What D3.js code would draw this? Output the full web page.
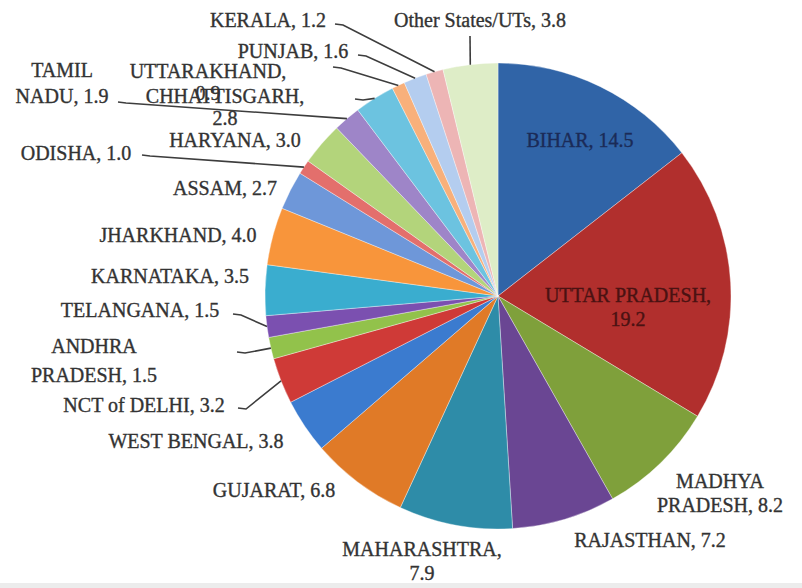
<!DOCTYPE html>
<html>
<head>
<meta charset="utf-8">
<script src="https://cdn.jsdelivr.net/npm/d3@7"></script>
<style>
  body { margin: 0; background: #fff; }
  svg { display: block; }
  text { font-family: "Liberation Serif", "Times New Roman", serif; }
</style>
</head>
<body>
<div id="chart"></div>
<script>
// state shares, clockwise from 12 o'clock
let states = ["BIHAR", "UTTAR PRADESH", "MADHYA PRADESH", "RAJASTHAN", "MAHARASHTRA",
    "GUJARAT", "WEST BENGAL", "NCT of DELHI", "ANDHRA PRADESH", "TELANGANA",
    "KARNATAKA", "JHARKHAND", "ASSAM", "ODISHA", "HARYANA", "TAMIL NADU",
    "CHHATTISGARH", "UTTARAKHAND", "PUNJAB", "KERALA", "Other States/UTs"];
let shares = [14.5, 19.2, 8.2, 7.2, 7.9, 6.8, 3.8, 3.2, 1.5, 1.5, 3.5, 4.0, 2.7, 1.0, 3.0,
    1.9, 2.8, 0.9, 1.6, 1.2, 3.8];
// how each label is broken into lines
let labelLines = [
    ["BIHAR, 14.5"], ["UTTAR PRADESH,", "19.2"], ["MADHYA", "PRADESH, 8.2"], ["RAJASTHAN, 7.2"],
    ["MAHARASHTRA,", "7.9"], ["GUJARAT, 6.8"], ["WEST BENGAL, 3.8"], ["NCT of DELHI, 3.2"],
    ["ANDHRA", "PRADESH, 1.5"], ["TELANGANA, 1.5"], ["KARNATAKA, 3.5"], ["JHARKHAND, 4.0"],
    ["ASSAM, 2.7"], ["ODISHA, 1.0"], ["HARYANA, 3.0"], ["TAMIL", "NADU, 1.9"],
    ["CHHATTISGARH,", "2.8"], ["UTTARAKHAND,", "0.9"], ["PUNJAB, 1.6"], ["KERALA, 1.2"],
    ["Other States/UTs, 3.8"]];
let colors = ["#3064a7", "#b12f2d", "#7fa03b", "#6a4693", "#2e8ca8", "#e07a27", "#3b7bcf",
    "#cf3a37", "#92c24b", "#7b50b0", "#3aadcf", "#f8953b", "#6e97d9", "#e36f6c", "#b3d47b",
    "#9e85c8", "#6cc3e0", "#f8b07b", "#b4cdef", "#edb5b5", "#deedc7"];

/* label layout: centre x, first baseline, leader start (none = no leader) */
let labelLayout = [
    { x: 580, y: 147, fill: "#1b2b57" },
    { x: 628, y: 302, fill: "#4a1212" },
    { x: 720, y: 488 },
    { x: 650, y: 547 },
    { x: 422, y: 556 },
    { x: 274, y: 497 },
    { x: 196, y: 448 },
    { x: 144, y: 412, lead: [238, 408] },
    { x: 94, y: 353, gap: 29, lead: [237, 352] },
    { x: 140, y: 317, lead: [233, 314] },
    { x: 170, y: 283 },
    { x: 178, y: 242 },
    { x: 225, y: 195 },
    { x: 76, y: 160, lead: [142, 155] },
    { x: 235, y: 147 },
    { x: 62, y: 77, gap: 26, lead: [118, 102] },
    { x: 225, y: 103, gap: 22, lead: [355, 99] },
    { x: 208, y: 78, gap: 22, lead: [333, 67] },
    { x: 293, y: 58, lead: [358, 55] },
    { x: 268, y: 27, lead: [335, 24] },
    { x: 480, y: 27, lead: [470, 36], straight: true }
];

let width = 802;
let height = 588;
let cx = 498;
let cy = 296;
let radius = 233;

let svg = d3.select("#chart")
    .append("svg")
    .attr("width", width)
    .attr("height", height);

svg.append("rect")
    .attr("x", 0).attr("y", 583)
    .attr("width", width).attr("height", 5)
    .attr("fill", "#ececec");

let data = states.map(function(s, i) {
    return { name: s, value: shares[i], lines: labelLines[i], color: colors[i], lay: labelLayout[i] };
});

let pie = d3.pie()
    .sort(null)
    .value(function(d) { return d.value; });

let arc = d3.arc()
    .innerRadius(0)
    .outerRadius(radius);

let edgeArc = d3.arc()
    .innerRadius(radius)
    .outerRadius(radius);

let g = svg.append("g")
    .attr("transform", "translate(" + cx + "," + cy + ")");

let arcs = pie(data);

g.selectAll("path.slice")
    .data(arcs)
    .enter()
    .append("path")
    .attr("class", "slice")
    .attr("d", arc)
    .attr("fill", function(d) { return d.data.color; })
    .attr("stroke", "#ffffff")
    .attr("stroke-opacity", 0.45)
    .attr("stroke-width", 0.8);

/* leader lines from slice edge to label */
arcs.forEach(function(d) {
    let lay = d.data.lay;
    if (!lay.lead) return;
    let p = edgeArc.centroid(d);
    let end = [p[0] + cx, p[1] + cy];
    let pts;
    if (lay.straight) {
        pts = [lay.lead, end];
    } else {
        pts = [lay.lead, [lay.lead[0] + 8, lay.lead[1] + 1], end];
    }
    svg.append("path")
        .attr("d", d3.line()(pts))
        .attr("fill", "none")
        .attr("stroke", "#3d3d3d")
        .attr("stroke-width", 1.6);
});

/* labels */
arcs.forEach(function(d) {
    let lay = d.data.lay;
    let gap = lay.gap || 24;
    let col = lay.fill || "#333333";
    let t = svg.append("text")
        .attr("text-anchor", "middle")
        .attr("font-size", "20px")
        .attr("fill", col)
        .attr("stroke", col)
        .attr("stroke-width", 0.35);
    d.data.lines.forEach(function(line, k) {
        t.append("tspan")
            .attr("x", lay.x)
            .attr("y", lay.y + k * gap)
            .text(line);
    });
});
</script>
</body>
</html>
